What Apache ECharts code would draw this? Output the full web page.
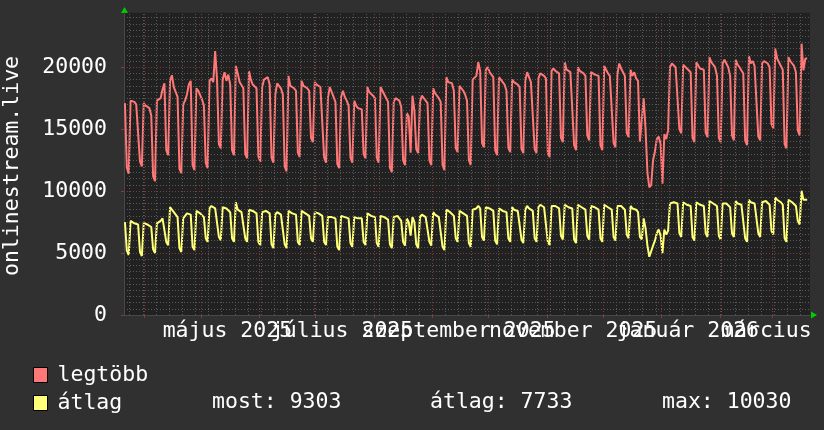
<!DOCTYPE html>
<html>
<head>
<meta charset="utf-8">
<script src="https://cdn.jsdelivr.net/npm/echarts@6/dist/echarts.min.js"></script>
<style>
html,body{margin:0;padding:0;background:#303030;}
#chart{width:824px;height:430px;}
</style>
</head>
<body>
<div id="chart"></div>
<script>
// ---- data (one value per day, starting 2025-03-21) ----
const startDay = [2025, 2, 21];
const seriesNames = ['legtöbb', 'átlag'];
const maxValues = [
17100,
11900,11400,17300,17200,17200,17000,16900,
12400,12000,17100,16900,16900,16700,16100,
11200,10800,17300,17200,17500,18200,18700,
13300,12900,18900,19350,18400,18300,17600,
11800,11450,17000,17300,17800,18600,18900,
12100,11700,18300,18100,18100,17400,16900,
12300,11850,18900,19100,18800,21300,19000,
13800,13450,19000,19600,18900,19400,18600,
13300,12900,20100,19500,18800,18700,18300,
13000,12650,19700,19000,18600,18500,18300,
12800,12350,18400,19000,18900,19200,18600,
12700,12300,17800,18700,18500,18300,17800,
12000,11600,19300,18500,18400,18300,18100,
13100,12750,18900,18500,18500,18300,18100,
14300,13950,18800,18600,18600,18400,18300,
12700,12300,17500,18400,18000,17600,17200,
12200,11850,17600,18100,17600,17300,16900,
12700,12300,17300,16900,16700,16700,16600,
13000,12650,18400,18000,17900,17700,17500,
12700,12300,18400,18100,17800,17500,17200,
11900,11530,17200,17500,17500,17300,16800,
12500,12100,16300,16000,13100,17700,16500,
13400,13060,17200,17700,17500,17400,17100,
12500,12100,18300,17900,17800,17500,17200,
12100,11690,19200,18800,18800,18700,18100,
13500,13140,18500,18400,18100,17800,17300,
12500,12100,19000,19000,19300,20400,19700,
13900,13540,19800,20000,19600,19400,19200,
13300,12900,19200,19000,18800,18600,18100,
13500,13140,19000,18800,18700,18600,18400,
13400,13060,18900,19600,19200,18800,18700,
13400,13060,19100,19500,19400,19300,19100,
13100,12740,19700,19900,19700,19600,19500,
14300,13950,20400,19800,19700,19600,19500,
13700,13300,20000,19700,19600,19500,19300,
14500,14100,19600,19700,19400,19300,19300,
13700,13300,20100,19800,19500,19300,19300,
13900,13540,19400,20300,19900,20000,19300,
14700,14350,19800,19300,19600,19100,18900,
14000,13900,17500,15000,11500,10300,10500,
12500,13200,14200,14400,13800,10600,14600,
14200,14900,20000,20300,20200,20000,20000,
15000,14670,20200,20300,19900,19900,19600,
14300,13950,20400,20300,19900,19900,19800,
14700,14350,20800,20400,20300,20000,19300,
14300,13950,20300,20600,20300,20000,19300,
14500,14100,20600,20200,20000,20000,19500,
14100,13700,20900,20300,20500,20100,20000,
14400,14100,20300,20500,20400,20300,20000,
15400,15070,21500,20700,20400,20100,19800,
13800,13460,20800,20500,20300,20100,19600,
14900,14500,21900,19750,20700,20700
];
const avgValues = [
7500,
5200,4840,7600,7500,7400,7400,7300,
5100,4760,7400,7300,7300,7200,7100,
5300,5000,7400,7500,7600,7800,7700,
5900,5640,8700,8500,8300,8200,7900,
5400,5080,7800,8000,8200,8200,8100,
5500,5240,8400,8300,8200,8100,7900,
6200,5900,8600,8800,8700,8600,8500,
6300,6040,8700,8600,8600,8500,8300,
6200,5900,9100,8500,8400,8300,8200,
6200,5900,8500,8400,8400,8300,8200,
5900,5640,8300,8400,8400,8300,8200,
5700,5400,8100,8300,8200,8100,8000,
5700,5400,8400,8300,8200,8200,8100,
5900,5650,8400,8300,8200,8100,8000,
6200,5900,8300,8300,8200,8100,8000,
5900,5650,7900,8000,7900,7900,7800,
5500,5240,8000,7900,7900,7800,7800,
5800,5500,7900,7900,7800,7800,7800,
5900,5650,8200,8100,8000,8000,7900,
5800,5500,8000,7900,7900,7800,7700,
5700,5400,7900,7900,8000,7800,7600,
5900,5600,7800,7500,6400,7900,7500,
5700,5400,7900,8100,8000,7900,7800,
5900,5600,8300,8100,8000,7900,7800,
5500,5240,8500,8400,8300,8200,8000,
6200,5900,8400,8300,8200,8100,8000,
5800,5500,8500,8500,8600,8800,8600,
6300,6000,8700,8800,8600,8500,8400,
6000,5700,8600,8500,8400,8400,8300,
6200,5900,8700,8500,8500,8400,8300,
6100,5800,8500,8800,8600,8500,8400,
6200,5900,8700,8900,8800,8700,8600,
5900,5650,8800,8900,8800,8700,8600,
6400,6100,8900,8800,8700,8700,8600,
6100,5800,8900,8800,8700,8700,8500,
6400,6100,8800,8800,8700,8600,8500,
6200,5900,8900,8800,8700,8600,8500,
6300,6000,8800,8900,8800,8800,8500,
6500,6200,8800,8600,8700,8500,8300,
6300,6100,7800,7000,5600,4700,4800,
5600,6000,6600,6900,6400,5000,6900,
6500,6800,9000,9100,9100,9000,9000,
6600,6300,9100,9100,8900,8900,8800,
6300,6000,9100,9000,8900,8900,8800,
6600,6300,9200,9100,9000,9000,8800,
6400,6100,9000,9100,9000,8900,8700,
6600,6300,9200,9000,8900,8900,8800,
6200,5900,9300,9100,9200,9000,8900,
6600,6300,9100,9200,9200,9100,8900,
6800,6500,9500,9300,9200,9100,8900,
6200,5900,9300,9200,9100,9000,8800,
7600,7300,10030,9300,9303,9303
];
// x-axis labels (placed mid-month)
const monthLabels = ['május 2025', 'július 2025', 'szeptember 2025', 'november 2025', 'január 2026', 'március 2026'];
const monthLabelDates = [[2025,4,15],[2025,6,15],[2025,8,15],[2025,10,15],[2026,0,15],[2026,2,15]];
// major vertical grid (month starts)
const monthStartDates = [[2025,3,1],[2025,4,1],[2025,5,1],[2025,6,1],[2025,7,1],[2025,8,1],[2025,9,1],[2025,10,1],[2025,11,1],[2026,0,1],[2026,1,1],[2026,2,1]];
const firstMonday = [2025, 2, 24];
const yTickStep = 5000;
const yMinorStep = 500;
const yMax = 24400;
const yTitle = 'onlinestream.live';
const statsLabels = ['most: 9303', 'átlag: 7733', 'max: 10030'];

// ---- build ----
const DAY = 86400000;
const utc = d => Date.UTC(d[0], d[1], d[2]);
const t0 = utc(startDay);
const tEnd = t0 + 365 * DAY;
const toPoints = arr => arr.map((v, i) => [t0 + i * DAY + DAY / 2, v]);
const labelTimes = monthLabelDates.map(utc);
const monthTimes = monthStartDates.map(utc);
const weekTimes = [];
for (let t = utc(firstMonday); t < tEnd; t += 7 * DAY) weekTimes.push(t);
// labels overlap in the original; split them over two axes so none get hidden
const labelsA = labelTimes.filter((t, i) => i % 2 === 0);
const labelsB = labelTimes.filter((t, i) => i % 2 === 1);
const labelFor = v => { const i = labelTimes.indexOf(v); return i >= 0 ? monthLabels[i] : ''; };

const FONT = 'DejaVu Sans Mono';
const FS = 21.5;
const RED = '#ff7878';
const YEL = '#ffff78';

const xLabelStyle = (vals) => ({
  customValues: vals, formatter: labelFor,
  color: '#ffffff', fontFamily: FONT, fontSize: FS, margin: 5,
  hideOverlap: false, showMinLabel: true, showMaxLabel: true
});

const chart = echarts.init(document.getElementById('chart'), null, {renderer: 'canvas'});
const option = {
  backgroundColor: '#303030',
  animation: false,
  grid: {left: 124, right: 14, top: 12.7, bottom: 115, show: true, backgroundColor: '#212121', borderWidth: 0,
    containLabel: false, outerBoundsMode: 'none'},
  legend: {
    data: seriesNames,
    orient: 'vertical',
    left: 28, top: 359,
    icon: 'rect', itemWidth: 14, itemHeight: 15, itemGap: 6,
    itemStyle: {borderColor: '#000', borderWidth: 1},
    textStyle: {color: '#ffffff', fontFamily: FONT, fontSize: FS, lineHeight: 22, padding: [0, 0, 0, 5]},
    selectedMode: false
  },
  xAxis: [
    {
      type: 'value', min: t0, max: tEnd, position: 'bottom',
      axisLine: {show: true, lineStyle: {color: '#484848', width: 1}},
      axisTick: {show: true, customValues: monthTimes, length: 3, lineStyle: {color: '#8a3a3a'}},
      axisLabel: xLabelStyle(labelsA),
      splitLine: {show: false}
    },
    {
      type: 'value', min: t0, max: tEnd, position: 'bottom', offset: 0,
      axisLine: {show: false}, axisTick: {show: false},
      axisLabel: xLabelStyle(labelsB),
      splitLine: {show: false}
    }
  ],
  yAxis: [
    {
      type: 'value', min: 0, max: yMax, interval: yMinorStep, position: 'left',
      axisLine: {show: false}, axisTick: {show: false}, axisLabel: {show: false},
      splitLine: {show: true, showMinLine: false, showMaxLine: false, lineStyle: {color: '#595959', type: [1, 2], width: 1}}
    },
    {
      type: 'value', min: 0, max: yMax, interval: yTickStep, position: 'left', offset: 0,
      axisLine: {show: true, lineStyle: {color: '#484848'}},
      axisTick: {show: true, length: 3, lineStyle: {color: '#8a3a3a'}},
      axisLabel: {
        color: '#ffffff', fontFamily: FONT, fontSize: FS, margin: 17, showMaxLabel: false,
        formatter: v => (v % yTickStep === 0 ? String(v) : '')
      },
      splitLine: {show: true, showMinLine: false, showMaxLine: false, lineStyle: {color: '#7a3a3a', type: [1, 2], width: 1}}
    }
  ],
  series: [
    {
      type: 'line', data: [], yAxisIndex: 0, z: 1, silent: true,
      markLine: {symbol: 'none', silent: true, animation: false, label: {show: false},
        lineStyle: {color: '#595959', type: [1, 2], width: 1},
        data: weekTimes.map(t => ({xAxis: t}))}
    },
    {
      type: 'line', data: [], yAxisIndex: 0, z: 1, silent: true,
      markLine: {symbol: 'none', silent: true, animation: false, label: {show: false},
        lineStyle: {color: '#7a3a3a', type: [1, 2], width: 1},
        data: monthTimes.map(t => ({xAxis: t}))}
    },
    {
      name: seriesNames[0], type: 'line', data: toPoints(maxValues), yAxisIndex: 0, z: 3,
      showSymbol: false, color: RED, lineStyle: {color: RED, width: 2}
    },
    {
      name: seriesNames[1], type: 'line', data: toPoints(avgValues), yAxisIndex: 0, z: 3,
      showSymbol: false, color: YEL, lineStyle: {color: YEL, width: 2}
    }
  ],
  graphic: [
    {type: 'text', x: 12, y: 166, rotation: Math.PI / 2,
      style: {text: yTitle, fill: '#ffffff', font: FS + 'px "DejaVu Sans Mono"', textAlign: 'center', textVerticalAlign: 'middle'}},
    {type: 'polygon', shape: {points: [[121, 13], [128, 13], [124.5, 7]]}, style: {fill: '#00cc00'}},
    {type: 'polygon', shape: {points: [[811, 311.5], [811, 318.5], [817, 315]]}, style: {fill: '#00cc00'}},
    {type: 'text', x: 212, y: 402, style: {text: statsLabels[0], fill: '#ffffff', font: FS + 'px "DejaVu Sans Mono"', textVerticalAlign: 'middle'}},
    {type: 'text', x: 430, y: 402, style: {text: statsLabels[1], fill: '#ffffff', font: FS + 'px "DejaVu Sans Mono"', textVerticalAlign: 'middle'}},
    {type: 'text', x: 662, y: 402, style: {text: statsLabels[2], fill: '#ffffff', font: FS + 'px "DejaVu Sans Mono"', textVerticalAlign: 'middle'}}
  ]
};
chart.setOption(option);
</script>
</body>
</html>
